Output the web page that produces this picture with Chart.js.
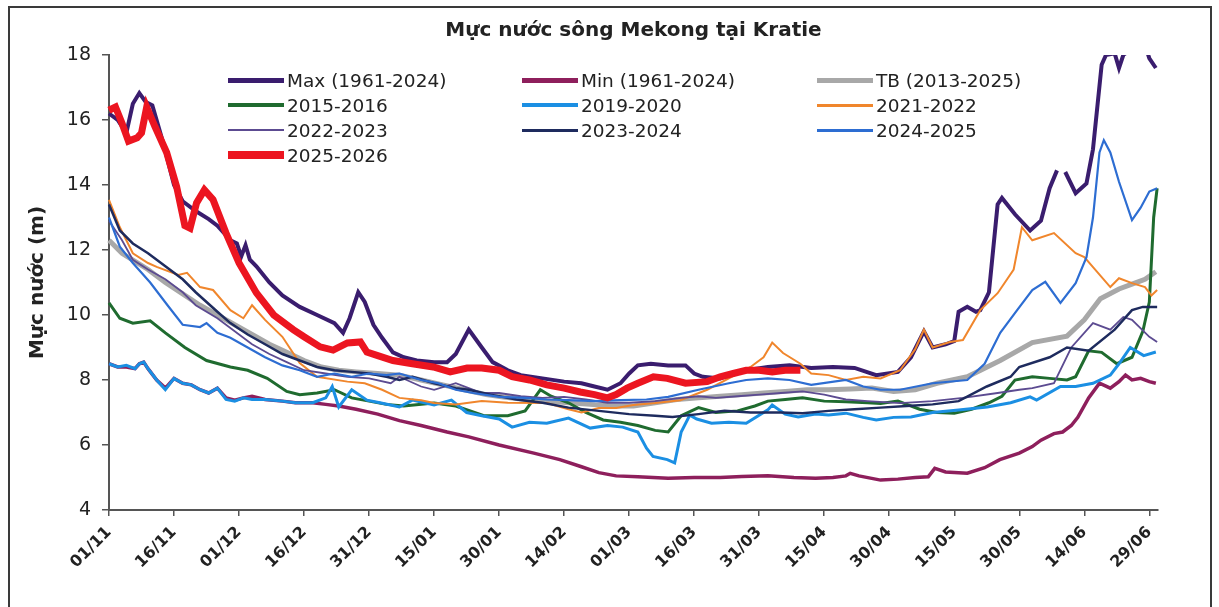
<!DOCTYPE html>
<html><head><meta charset="utf-8">
<script src="https://cdn.jsdelivr.net/npm/chart.js@4.4.1/dist/chart.umd.min.js"></script>
<style>
html,body{margin:0;padding:0;background:#fff;overflow:hidden;}
#wrap{position:relative;width:1219px;height:607px;}
#frame{position:absolute;left:8px;top:6px;width:1200px;height:700px;border:2px solid #3a3a3a;pointer-events:none;}
#legend{position:absolute;left:0;top:0;width:1219px;height:607px;pointer-events:none;font-family:"DejaVu Sans";font-size:18.5px;color:#222;}
.item{position:absolute;height:25px;display:flex;align-items:center;white-space:nowrap;}
.swatch{display:inline-block;width:56px;margin-right:3px;}
</style></head>
<body><div id="wrap"><canvas id="c" width="1219" height="607"></canvas><div id="frame"></div><div id="legend"></div></div>
<script>
const chartTitle = "Mực nước sông Mekong tại Kratie";
const yTitle = "Mực nước (m)";
const tickLabels = ["01/11","16/11","01/12","16/12","31/12","15/01","30/01","14/02","01/03","16/03","31/03","15/04","30/04","15/05","30/05","14/06","29/06"];
const seriesNames = ["Max (1961-2024)","Min (1961-2024)","TB (2013-2025)","2015-2016","2019-2020","2021-2022","2022-2023","2023-2024","2024-2025","2025-2026"];

// [day since 01/11, water level (m)]
const maxLevel = [[0,16.2],[2,16.0],[4,15.6],[5.5,16.5],[7,16.83],[8.5,16.55],[10,16.45],[12.5,15.3],[15,14.0],[17,13.5],[20,13.2],[23,12.95],[25,12.75],[28,12.3],[29.5,12.2],[30.5,11.8],[31.5,12.15],[32.5,11.7],[34,11.5],[37,11.0],[40,10.6],[44,10.25],[48,10.0],[52,9.75],[54,9.45],[55.5,9.9],[57.5,10.7],[59,10.4],[61,9.7],[63,9.3],[65.5,8.85],[68,8.7],[71,8.6],[75,8.55],[78,8.55],[80,8.8],[83,9.55],[86,9.0],[88.5,8.55],[92,8.3],[95,8.15],[100,8.05],[105,7.95],[109,7.9],[112,7.8],[115,7.7],[118,7.9],[120,8.2],[122,8.45],[125,8.5],[129,8.45],[133,8.45],[135,8.2],[137,8.1],[141,8.05],[144,8.2],[147,8.3],[152,8.4],[157,8.45],[162,8.37],[167,8.4],[172,8.37],[177,8.15],[182,8.25],[185,8.7],[188,9.5],[190,9.0],[193,9.1],[195,9.2],[196,10.1],[198,10.25],[200,10.1],[201,10.15],[203,10.7],[205,13.4],[206,13.6],[209,13.1],[212.5,12.6],[215,12.9],[217,13.9],[218.7,14.45],[219.5,null],[220.6,14.4],[223,13.75],[225.5,14.05],[227,15.1],[229,17.7],[230,18.0],[232,18.05],[233,17.6],[234,18.0],[235,18.1],[236,18.5],[238,18.7],[239,18.3],[240,17.9],[241.5,17.6]];
const minLevel = [[0,8.5],[2,8.4],[4,8.4],[6,8.35],[7,8.5],[8,8.55],[9,8.35],[11,8.0],[13,7.75],[15,8.05],[17,7.9],[19,7.85],[21,7.7],[23,7.6],[25,7.75],[27,7.45],[29,7.38],[31,7.45],[33,7.5],[36,7.4],[40,7.35],[43,7.3],[47,7.3],[50,7.25],[53,7.2],[57,7.1],[62,6.95],[67,6.75],[72,6.6],[78,6.4],[83,6.25],[90,6.0],[98,5.75],[104,5.55],[109,5.33],[113,5.15],[117,5.05],[122,5.02],[129,4.98],[135,5.0],[141,5.0],[146,5.03],[152,5.05],[158,5.0],[163,4.98],[167,5.0],[170,5.05],[171,5.13],[173,5.05],[178,4.92],[182,4.95],[186,5.0],[189,5.02],[190.5,5.28],[193,5.17],[198,5.13],[202,5.3],[205.5,5.55],[210,5.75],[213,5.95],[215,6.15],[218,6.35],[220,6.4],[222,6.6],[223.5,6.85],[226,7.45],[228.5,7.9],[231,7.75],[233,7.95],[234.5,8.15],[236,8.0],[238,8.05],[240,7.95],[241.5,7.9]];
const avgLevel = [[0,12.3],[3,11.9],[6,11.65],[9,11.4],[13,11.0],[17,10.65],[21,10.3],[25,10.0],[29,9.7],[33,9.4],[37,9.1],[41,8.85],[45,8.6],[49,8.4],[53,8.3],[57,8.25],[62,8.2],[67,8.15],[72,8.0],[77,7.85],[82,7.7],[87,7.55],[91,7.48],[96,7.4],[101,7.35],[106,7.3],[111,7.25],[116,7.2],[121,7.2],[126,7.3],[131,7.4],[136,7.45],[141,7.5],[146,7.55],[151,7.6],[156,7.65],[161,7.7],[166,7.7],[171,7.72],[176,7.75],[181,7.65],[186,7.7],[191,7.9],[198,8.1],[205.6,8.6],[213,9.15],[221,9.35],[225,9.85],[228.7,10.5],[233,10.8],[236,10.95],[239,11.1],[241.5,11.33]];
const y2015 = [[0,10.37],[2.5,9.9],[5.5,9.75],[9.5,9.82],[13,9.45],[17.5,9.0],[22.5,8.6],[28,8.4],[32,8.3],[36.5,8.05],[41,7.65],[44,7.55],[48,7.6],[52,7.7],[56,7.45],[60,7.35],[64,7.25],[68,7.2],[75,7.29],[80,7.2],[86.5,6.9],[92,6.9],[96,7.05],[99.5,7.7],[102,7.5],[106,7.3],[110,7.0],[114,6.77],[118,6.7],[122,6.6],[126,6.45],[129,6.4],[132,6.9],[136,7.15],[140,7.0],[145,7.05],[149,7.2],[152,7.35],[156,7.4],[160,7.45],[165,7.35],[170,7.33],[175,7.3],[178,7.28],[182,7.35],[187,7.1],[191,7.0],[195,6.98],[199,7.1],[203,7.3],[206,7.5],[209,8.0],[213,8.1],[217,8.05],[221,8.0],[223,8.1],[226,8.9],[229,8.85],[232.5,8.5],[236,8.7],[238.5,9.5],[240,10.4],[241,13.0],[241.8,13.9]];
const y2019 = [[0,8.5],[2,8.4],[4,8.45],[6,8.35],[7,8.5],[8,8.55],[9,8.35],[11,8.0],[13,7.7],[15,8.05],[17,7.9],[19,7.85],[21,7.7],[23,7.6],[25,7.75],[27,7.4],[29,7.35],[31,7.45],[33,7.4],[36,7.4],[40,7.35],[43,7.3],[47,7.3],[50,7.45],[51.5,7.8],[53,7.17],[56,7.7],[59.5,7.38],[62.5,7.3],[67,7.17],[70,7.38],[75,7.23],[79,7.38],[82.5,7.0],[86,6.9],[90,6.8],[93,6.55],[97,6.7],[101,6.67],[106,6.83],[111,6.52],[115,6.6],[118.5,6.55],[122,6.4],[124,5.9],[125.5,5.65],[128.8,5.55],[130.5,5.45],[132,6.4],[134,6.92],[135.6,6.8],[139,6.67],[143,6.7],[147,6.67],[152,7.08],[153,7.23],[156,6.95],[159,6.86],[163,6.95],[166,6.92],[170,6.98],[174,6.85],[177,6.77],[181,6.85],[185,6.86],[190,7.0],[196,7.08],[202.6,7.17],[208,7.3],[212.5,7.48],[214,7.38],[219.5,7.8],[223,7.8],[227,7.9],[231,8.15],[233,8.5],[235.6,9.0],[238.7,8.75],[241.5,8.86]];
const y2021 = [[0,13.54],[2.5,12.7],[5.5,11.9],[9,11.6],[11,11.48],[16,11.23],[18,11.3],[21,10.86],[24,10.77],[28,10.15],[31,9.9],[33,10.3],[36,9.85],[40,9.33],[44,8.52],[48,8.1],[55,7.95],[59,7.9],[63,7.7],[67,7.45],[72,7.38],[75,7.29],[80,7.25],[86,7.35],[92,7.3],[101,7.29],[106,7.1],[109,7.0],[113,7.14],[117,7.14],[121,7.23],[126,7.29],[131.8,7.38],[138,7.7],[143,8.05],[148,8.4],[151,8.7],[153,9.15],[155.5,8.83],[159.5,8.5],[162,8.2],[166,8.15],[170,8.0],[174,8.1],[178,8.05],[182.5,8.3],[186,8.95],[188,9.55],[190,9.0],[194,9.17],[197,9.23],[201,10.15],[205,10.67],[208.7,11.4],[210.6,12.7],[213,12.3],[218,12.52],[223,11.9],[225,11.78],[231,10.86],[233,11.13],[236,10.98],[239,10.86],[240.5,10.6],[241.8,10.77]];
const y2022 = [[0,12.9],[3,12.3],[5.5,11.7],[9,11.4],[13,11.1],[17,10.7],[20,10.3],[25,9.9],[29,9.5],[33,9.1],[37,8.8],[41,8.55],[45,8.3],[50,8.2],[55,8.1],[60,8.05],[65,7.9],[67,8.1],[72,7.8],[75,7.7],[80,7.9],[83,7.75],[86,7.6],[90,7.6],[95,7.5],[100,7.45],[105,7.48],[110,7.4],[115,7.3],[120,7.3],[126,7.35],[132,7.45],[136,7.5],[140,7.45],[145,7.5],[150,7.55],[155,7.6],[160,7.65],[165,7.55],[170,7.4],[175,7.35],[182.5,7.29],[190,7.35],[197,7.45],[205,7.6],[210,7.7],[213,7.75],[218,7.9],[222,9.0],[227,9.75],[231,9.55],[234,9.94],[236,9.85],[240,9.33],[241.8,9.17]];
const y2023 = [[0,13.4],[2.5,12.6],[5.5,12.2],[9,11.9],[13,11.5],[17,11.1],[20,10.7],[25,10.1],[28,9.75],[32,9.4],[36,9.1],[40,8.8],[44,8.6],[48,8.4],[52,8.3],[56,8.25],[60,8.2],[64,8.1],[67,8.0],[70,8.1],[75,7.9],[80,7.75],[83,7.7],[88,7.55],[94,7.4],[100,7.3],[106,7.15],[113,7.05],[120,6.95],[126,6.9],[130,6.86],[136,6.95],[142,7.05],[148,7.0],[155,7.0],[160,6.98],[166,7.05],[172,7.1],[178,7.15],[184,7.2],[190,7.25],[196,7.35],[202.5,7.8],[208,8.1],[210,8.4],[217,8.7],[221,9.0],[226,8.9],[232,9.55],[236,10.15],[238.5,10.25],[241.8,10.25]];
const y2024 = [[0,13.0],[2.5,12.1],[5.5,11.6],[9.5,11.0],[13.5,10.3],[17,9.7],[21,9.63],[22.5,9.75],[25,9.45],[28,9.3],[32,9.0],[36,8.7],[40,8.45],[44,8.3],[48,8.1],[52,8.2],[56,8.1],[60,8.2],[64,8.15],[67,8.2],[72,8.0],[76,7.9],[80,7.7],[84,7.6],[90,7.48],[96,7.45],[101,7.4],[106,7.38],[112,7.35],[118,7.38],[124,7.4],[129,7.48],[136,7.7],[143,7.9],[147,8.0],[152,8.05],[157,8.0],[162,7.85],[170,8.0],[174,7.8],[178,7.7],[182.5,7.7],[190,7.9],[198,8.0],[202,8.5],[205.6,9.45],[209.5,10.15],[213,10.77],[216,11.02],[219.5,10.37],[223,10.98],[225.5,11.78],[227,13.0],[228.5,15.0],[229.5,15.38],[231,15.0],[233,14.1],[236,12.92],[238,13.3],[240,13.8],[241.8,13.9]];
const y2025 = [[0,16.3],[1.5,16.4],[3,15.9],[4.5,15.35],[6.5,15.45],[7.5,15.6],[8.7,16.4],[10.6,15.8],[13.3,15.0],[15.6,13.95],[17.5,12.75],[18.7,12.67],[20.2,13.45],[22,13.85],[24,13.55],[27,12.52],[30,11.6],[34,10.68],[38,10.0],[42.5,9.55],[45,9.33],[48.7,9.02],[51.7,8.92],[55,9.14],[58,9.17],[59.5,8.86],[62,8.75],[65.5,8.6],[70,8.5],[74.8,8.4],[78.7,8.25],[82.6,8.37],[86,8.37],[90,8.3],[93,8.1],[97,8.0],[101,7.85],[105,7.75],[108.7,7.63],[112,7.55],[115,7.45],[117,7.55],[119.5,7.75],[122,7.9],[125.6,8.1],[128.8,8.05],[133,7.9],[138,7.95],[141,8.1],[144,8.2],[147,8.3],[150,8.3],[153,8.25],[156,8.3],[159.5,8.3]];

const seriesData = [maxLevel, minLevel, avgLevel, y2015, y2019, y2021, y2022, y2023, y2024, y2025];
const seriesColors = ["#3a1d6e","#8e1f5c","#a8a8a8","#1f6b2f","#1b8fe3","#f0862c","#5c4b91","#1e2b5e","#2d6dd2","#ec1520"];
const seriesWidths = [4, 3.5, 5, 3, 3, 2, 1.8, 2.5, 2.2, 7];
const legendWidths = [5, 5, 5, 4, 4, 3, 2, 3, 3, 8];

const FONT = "DejaVu Sans";
const n = seriesData.length;
const datasets = seriesData.map((s, i) => ({
  label: seriesNames[i],
  data: s.map(([d, v]) => ({x: d, y: v})),
  borderColor: seriesColors[i],
  backgroundColor: seriesColors[i],
  borderWidth: seriesWidths[i],
  pointRadius: 0,
  tension: 0,
  spanGaps: false,
  order: n - 1 - i,
  clip: {left: 5, right: 2, top: 0, bottom: 5}
}));

new Chart(document.getElementById('c'), {
  type: 'line',
  data: {datasets},
  options: {
    responsive: false,
    animation: false,
    devicePixelRatio: 1,
    layout: {padding: {left: 0, right: 61, top: 0, bottom: 0}},
    plugins: {
      legend: {display: false},
      tooltip: {enabled: false},
      title: {
        display: true, text: chartTitle, fullSize: false,
        color: '#222', font: {family: FONT, size: 20, weight: 'bold', lineHeight: 1.2},
        padding: {top: 19, bottom: 12}
      }
    },
    scales: {
      x: {
        type: 'linear', min: 0, max: 242,
        afterBuildTicks: s => { s.ticks = s.ticks.filter(t => t.value % 15 === 0); },
        afterFit: s => { s.height = 97; },
        ticks: {
          stepSize: 15, autoSkip: false, maxRotation: 45, minRotation: 45, includeBounds: false,
          color: '#222', font: {family: FONT, size: 16, weight: 'bold'}, padding: 7,
          callback: v => tickLabels[Math.round(v / 15)]
        },
        grid: {drawOnChartArea: false, drawTicks: true, tickLength: 6, color: '#555', lineWidth: 1.5},
        border: {display: true, color: '#555', width: 2}
      },
      y: {
        min: 4, max: 18,
        afterFit: s => { s.width = 109; },
        ticks: {stepSize: 2, color: '#222', font: {family: FONT, size: 19}, padding: 11},
        grid: {drawOnChartArea: false, drawTicks: true, tickLength: 7, color: '#555', lineWidth: 1.5},
        border: {display: true, color: '#555', width: 2},
        title: {display: true, text: yTitle, color: '#222', font: {family: FONT, size: 20, weight: 'bold', lineHeight: 1.2}, padding: {top: 26, bottom: 0}}
      }
    }
  }
});

// legend laid out in 3 columns like the original
const legend = document.getElementById('legend');
const colX = [228, 522, 817];
const rowY = [80, 105, 130, 155];
seriesNames.forEach((name, i) => {
  const item = document.createElement('div');
  item.className = 'item';
  item.style.left = colX[i % 3] + 'px';
  item.style.top = (rowY[Math.floor(i / 3)] - 12.5) + 'px';
  const sw = document.createElement('span');
  sw.className = 'swatch';
  sw.style.height = legendWidths[i] + 'px';
  sw.style.background = seriesColors[i];
  const tx = document.createElement('span');
  tx.textContent = name;
  item.appendChild(sw);
  item.appendChild(tx);
  legend.appendChild(item);
});
</script>
</body></html>
